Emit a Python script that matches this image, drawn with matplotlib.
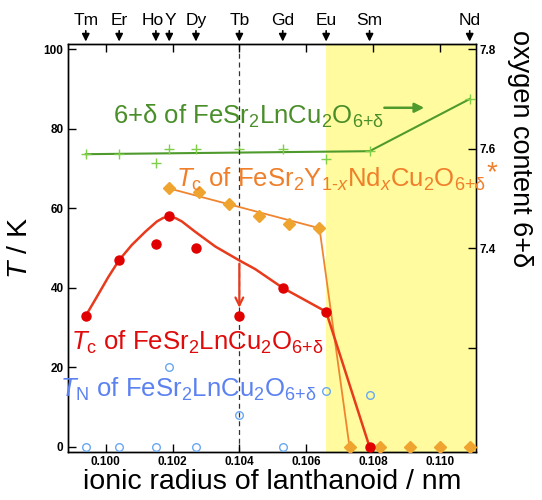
import matplotlib
matplotlib.use("Agg")
import matplotlib.pyplot as plt

plt.rcParams['font.family'] = ['Liberation Sans', 'DejaVu Sans']
plt.rcParams['mathtext.fontset'] = 'custom'
plt.rcParams['mathtext.rm'] = 'Liberation Sans'
plt.rcParams['mathtext.it'] = 'Liberation Sans:italic'
plt.rcParams['mathtext.bf'] = 'Liberation Sans:bold'

# lanthanoids and their ionic radii (nm)
elements = ["Tm", "Er", "Ho", "Y", "Dy", "Tb", "Gd", "Eu", "Sm", "Nd"]
radius = [0.0994, 0.1004, 0.1015, 0.1019, 0.1027, 0.1040, 0.1053, 0.1066, 0.1079, 0.1109]

# Tc of FeSr2LnCu2O6+d (no point for Nd)
tc_x = [0.0994, 0.1004, 0.1015, 0.1019, 0.1027, 0.1040, 0.1053, 0.1066, 0.1079]
tc = [33, 47, 51, 58, 50, 33, 40, 34, 0]
# guide curve for Tc
tc_curve_x = [0.0994, 0.09968, 0.10008, 0.1004, 0.10078, 0.10118, 0.10153, 0.10172, 0.10191,
              0.1021, 0.10228, 0.10268, 0.10328, 0.10398, 0.10448, 0.1053, 0.1066, 0.1079]
tc_curve = [33, 37, 42.8, 47, 50.8, 54.1, 56.7, 57.6, 57.9,
            57.5, 56.7, 54.1, 50.4, 47.0, 44.7, 40, 34, 0]

# TN of FeSr2LnCu2O6+d
tn_x = [0.0994, 0.1004, 0.1015, 0.1019, 0.1027, 0.1040, 0.1053, 0.1066, 0.1079]
tn = [0, 0, 0, 20, 0, 8, 0, 14, 13]

# Tc of FeSr2Y1-xNdxCu2O6+d
ynd_x = [0.1019, 0.1028, 0.1037, 0.1046, 0.1055, 0.1064, 0.1073, 0.1082, 0.1091, 0.1100, 0.1109]
ynd_tc = [65, 64, 61, 58, 56, 55, 0, 0, 0, 0, 0]
ynd_line_x = [0.1019, 0.1064, 0.1073]
ynd_line = [65, 55, 0]

# oxygen content 6+d (right axis)
ox = [7.589, 7.589, 7.571, 7.600, 7.600, 7.600, 7.600, 7.579, 7.596, 7.700]
ox_line_x = [0.0994, 0.1079, 0.1109]
ox_line = [7.589, 7.595, 7.700]

fig = plt.figure(figsize=(5.42, 5.0), dpi=100)
ax = fig.add_axes([0.125, 0.0966, 0.7527, 0.8148])
ax2 = ax.twinx()
ax.set_zorder(ax2.get_zorder() + 1)
ax.patch.set_visible(False)

xmin, xmax = 0.09886, 0.11108
tmin, tmax = -1.2, 101.26
ax.set_xlim(xmin, xmax)
ax.set_ylim(tmin, tmax)
ax2.set_ylim(7.0 + 0.008 * tmin, 7.0 + 0.008 * tmax)

# yellow region
ax2.axvspan(0.1066, xmax, color='#fffb9e', zorder=0, lw=0)

# vertical dashed line at Tb
ax.axvline(0.1040, color='#333333', lw=0.9, ls=(0, (4, 3)), zorder=1)

# oxygen content
ax2.plot(ox_line_x, ox_line, color='#4e9a2c', lw=1.5, zorder=2)
ax2.plot(radius, ox, ls='none', marker='+', ms=7, mew=1.0, color='#7fcf48', zorder=3)

# Y1-xNdx
ax.plot(ynd_line_x, ynd_line, color='#f08530', lw=1.3, zorder=2)
ax.plot(ynd_x, ynd_tc, ls='none', marker='D', ms=6, color='#f0a430', zorder=3)

# Tc
ax.plot(tc_curve_x, tc_curve, color='#e83a1c', lw=1.8, zorder=4)
ax.plot(tc_x, tc, ls='none', marker='o', ms=6.5, color='#e00000', zorder=5)

# TN
ax.plot(tn_x, tn, ls='none', marker='o', ms=5.5, mfc='none', mec='#6aa8f2', mew=1.0, zorder=5)

# red arrow at Tb
ax.annotate('', xy=(0.1040, 34.3), xytext=(0.1040, 46.8),
            arrowprops=dict(arrowstyle='->', color='#e83a1c', lw=1.6,
                            mutation_scale=14), zorder=6)

# green arrow pointing to right axis
ax.annotate('', xy=(0.10962, 85.3), xytext=(0.10826, 85.3),
            arrowprops=dict(arrowstyle='-|>', color='#4e9a2c', lw=1.8,
                            mutation_scale=14), zorder=6)

# labels of the series
fs = 18.5
ax.text(0.10021, 81.2, r'6+δ of FeSr$_\mathrm{2}$LnCu$_\mathrm{2}$O$_\text{6+δ}$',
        color='#4a8e2a', fontsize=fs, va='baseline', ha='left', zorder=7)
ax.text(0.10211, 65.3,
        r'$\mathit{T}_\mathrm{c}$ of FeSr$_\mathrm{2}$Y$_{\text{1-}\mathit{x}}$Nd$_\mathit{x}$Cu$_\mathrm{2}$O$_\text{6+δ}$',
        color='#ef7f2a', fontsize=fs, va='baseline', ha='left', zorder=7, clip_on=False)
ax.text(0.11140, 67.0, '*', color='#ef7f2a', fontsize=20, va='baseline', ha='left',
        zorder=7, clip_on=False)
ax.text(0.09897, 24.4, r'$\mathit{T}_\mathrm{c}$ of FeSr$_\mathrm{2}$LnCu$_\mathrm{2}$O$_\text{6+δ}$',
        color='#e00a0a', fontsize=fs, va='baseline', ha='left', zorder=7)
ax.text(0.09863, 12.5, r'$\mathit{T}_\mathrm{N}$ of FeSr$_\mathrm{2}$LnCu$_\mathrm{2}$O$_\text{6+δ}$',
        color='#5b82f0', fontsize=fs, va='baseline', ha='left', zorder=7, clip_on=False)

# element markers on top
for name, r in zip(elements, radius):
    ax.annotate('', xy=(r, 1.0), xytext=(r, 1.04),
                xycoords=('data', 'axes fraction'), textcoords=('data', 'axes fraction'),
                arrowprops=dict(arrowstyle='-|>', color='black', lw=1.2, mutation_scale=11),
                annotation_clip=False)
    if name == "Ho":
        lx, ha = 0.10175, 'right'
    elif name == "Y":
        lx, ha = 0.10175, 'left'
    else:
        lx, ha = r, 'center'
    ax.text(lx, 1.047, name, transform=ax.get_xaxis_transform(), ha=ha,
            va='baseline', fontsize=12.5)

# axes and ticks
xt = [0.100, 0.102, 0.104, 0.106, 0.108, 0.110]
ax.set_xticks(xt)
ax.set_xticklabels(['%.3f' % v for v in xt])
ax.set_yticks([0, 20, 40, 60, 80, 100])
ax2.set_yticks([7.0, 7.2, 7.4, 7.6, 7.8])
ax2.set_yticklabels(['', '', '7.4', '7.6', '7.8'])

ax.tick_params(axis='both', direction='in', length=6, width=1, top=True, right=False,
               labelsize=8.5, pad=3)
ax2.tick_params(axis='y', direction='in', length=6, width=1, labelsize=8.5, pad=3)
for lab in ax.get_xticklabels() + ax.get_yticklabels() + ax2.get_yticklabels():
    lab.set_fontweight('bold')

for sp in ax.spines.values():
    sp.set_linewidth(1.0)
for sp in ax2.spines.values():
    sp.set_linewidth(1.0)
ax2.spines['right'].set_color('#555555')

ax.set_xlabel('ionic radius of lanthanoid / nm', fontsize=20.5, labelpad=1)
ax.set_ylabel(r'$\mathit{T}$ / K', fontsize=20.5, labelpad=8)
fig.text(0.959, 0.94, 'oxygen content 6+δ', rotation=270, va='top', ha='center',
         fontsize=19.5)

fig.savefig('out.png', dpi=100)
